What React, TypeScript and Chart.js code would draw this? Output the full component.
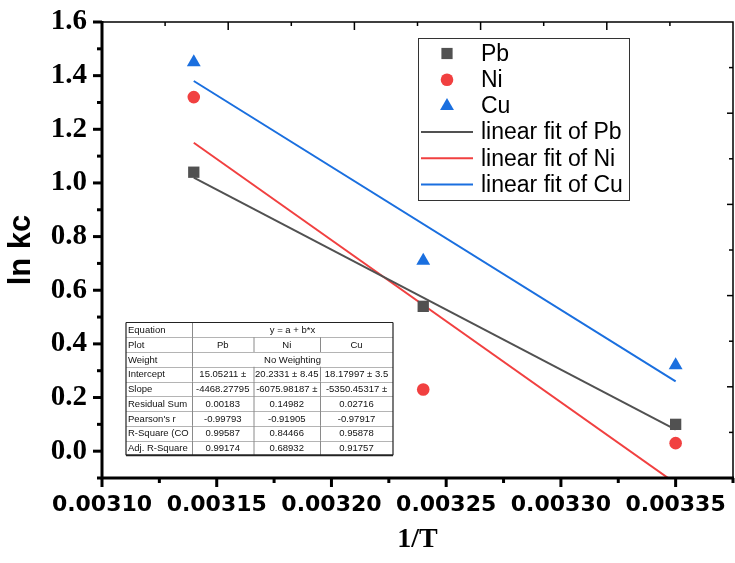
import React, { useEffect, useRef } from 'react';
import { Chart, registerables } from 'chart.js';

Chart.register(...registerables);

// ---- data ----
const xValues = [0.00314, 0.00324, 0.00335];
const pbValues = [1.04, 0.54, 0.1];
const niValues = [1.32, 0.23, 0.03];
const cuValues = [1.45, 0.71, 0.32];

const fitX = [0.00314, 0.00335];
const pbFit = [1.02, 0.08];
const niFit = [1.15, -0.12];
const cuFit = [1.38, 0.26];

const xTicks = [0.0031, 0.00315, 0.0032, 0.00325, 0.0033, 0.00335];
const yTicks = [0, 0.2, 0.4, 0.6, 0.8, 1.0, 1.2, 1.4, 1.6];

const seriesNames = ['Pb', 'Ni', 'Cu'];
const fitNames = ['linear fit of Pb', 'linear fit of Ni', 'linear fit of Cu'];
const colors = ['#515151', '#F14040', '#1A6FDF'];

const tableRowLabels = [
  'Equation',
  'Plot',
  'Weight',
  'Intercept',
  'Slope',
  'Residual Sum',
  "Pearson's r",
  'R-Square (CO',
  'Adj. R-Square',
];
const tableCells: string[][] = [
  ['y = a + b*x'],
  ['Pb', 'Ni', 'Cu'],
  ['No Weighting'],
  ['15.05211 ±', '20.2331 ± 8.45', '18.17997 ± 3.5'],
  ['-4468.27795', '-6075.98187 ±', '-5350.45317 ±'],
  ['0.00183', '0.14982', '0.02716'],
  ['-0.99793', '-0.91905', '-0.97917'],
  ['0.99587', '0.84466', '0.95878'],
  ['0.99174', '0.68932', '0.91757'],
];

const toPts = (xs: number[], ys: number[]) => xs.map((x, i) => ({ x, y: ys[i] }));

function drawMarker(ctx: CanvasRenderingContext2D, kind: number, x: number, y: number) {
  ctx.fillStyle = colors[kind];
  ctx.beginPath();
  if (kind === 0) {
    ctx.rect(x - 5.6, y - 5.6, 11.2, 11.2);
  } else if (kind === 1) {
    ctx.arc(x, y, 6.3, 0, Math.PI * 2);
  } else {
    const r = 8;
    ctx.moveTo(x, y - r);
    ctx.lineTo(x + r * Math.sin((2 * Math.PI) / 3), y - r * Math.cos((2 * Math.PI) / 3));
    ctx.lineTo(x + r * Math.sin((4 * Math.PI) / 3), y - r * Math.cos((4 * Math.PI) / 3));
    ctx.closePath();
  }
  ctx.fill();
}

function cellText(ctx: CanvasRenderingContext2D, text: string, x0: number, x1: number, yc: number, align: 'auto' | 'left') {
  ctx.save();
  ctx.beginPath();
  ctx.rect(x0 + 1, yc - 8, x1 - x0 - 2, 16);
  ctx.clip();
  const w = ctx.measureText(text).width;
  if (align === 'auto' && w <= x1 - x0 - 3) {
    ctx.textAlign = 'center';
    ctx.fillText(text, (x0 + x1) / 2, yc);
  } else {
    ctx.textAlign = 'left';
    ctx.fillText(text, x0 + 2, yc);
  }
  ctx.restore();
}

function drawTable(ctx: CanvasRenderingContext2D) {
  const colX = [126, 192, 253.5, 320, 393];
  const top = 322.5;
  const rowH = 14.75;
  const right = colX[4];
  const n = tableRowLabels.length;
  ctx.save();
  ctx.fillStyle = '#ffffff';
  ctx.fillRect(colX[0], top, right - colX[0], rowH * n);
  ctx.lineWidth = 1;
  ctx.strokeStyle = '#b4b4b4';
  for (let r = 1; r < n; r++) {
    const y = Math.round(top + r * rowH) + 0.5;
    ctx.beginPath();
    ctx.moveTo(colX[0], y);
    ctx.lineTo(right, y);
    ctx.stroke();
  }
  ctx.strokeStyle = '#8a8a8a';
  for (let r = 0; r < n; r++) {
    const y0 = top + r * rowH;
    const y1 = y0 + rowH;
    const xs = tableCells[r].length === 3 ? [colX[1], colX[2], colX[3]] : [colX[1]];
    xs.forEach((xv) => {
      ctx.beginPath();
      ctx.moveTo(xv + 0.5, y0);
      ctx.lineTo(xv + 0.5, y1);
      ctx.stroke();
    });
  }
  ctx.strokeStyle = '#222';
  ctx.lineWidth = 1.2;
  ctx.beginPath();
  ctx.moveTo(colX[0], top);
  ctx.lineTo(right, top);
  ctx.moveTo(colX[0], top);
  ctx.lineTo(colX[0], top + rowH * n);
  ctx.moveTo(right, top);
  ctx.lineTo(right, top + rowH * n);
  ctx.stroke();
  ctx.lineWidth = 2;
  ctx.beginPath();
  ctx.moveTo(colX[0], top + rowH * n);
  ctx.lineTo(right, top + rowH * n);
  ctx.stroke();

  ctx.fillStyle = '#111';
  ctx.font = '9.5px "Liberation Sans", Arial, sans-serif';
  ctx.textBaseline = 'middle';
  for (let r = 0; r < n; r++) {
    const yc = top + r * rowH + rowH / 2 + 0.5;
    cellText(ctx, tableRowLabels[r], colX[0], colX[1], yc, 'left');
    const cells = tableCells[r];
    if (cells.length === 1) {
      cellText(ctx, cells[0], colX[1], colX[4], yc, 'auto');
    } else {
      cells.forEach((t, i) => cellText(ctx, t, colX[i + 1], colX[i + 2], yc, 'auto'));
    }
  }
  ctx.restore();
}

function drawLegend(ctx: CanvasRenderingContext2D) {
  const bx = 418.5, by = 38.5, bw = 211, bh = 162;
  ctx.save();
  ctx.fillStyle = '#fff';
  ctx.fillRect(bx, by, bw, bh);
  ctx.strokeStyle = '#333';
  ctx.lineWidth = 1;
  ctx.strokeRect(bx, by, bw, bh);
  ctx.font = '23px "Liberation Sans", Arial, sans-serif';
  ctx.textBaseline = 'middle';
  ctx.textAlign = 'left';
  const rowY = (i: number) => 53.5 + i * 26.2;
  seriesNames.forEach((name, i) => {
    drawMarker(ctx, i, 447, rowY(i));
    ctx.fillStyle = '#000';
    ctx.fillText(name, 481, rowY(i) + 1);
  });
  fitNames.forEach((name, i) => {
    const y = rowY(i + 3);
    ctx.strokeStyle = colors[i];
    ctx.lineWidth = 2;
    ctx.beginPath();
    ctx.moveTo(421, y);
    ctx.lineTo(473, y);
    ctx.stroke();
    ctx.fillStyle = '#000';
    ctx.fillText(name, 481, y + 1);
  });
  ctx.restore();
}

const PLOT_RIGHT = 733;

const framePlugin = {
  id: 'frameAndOverlays',
  afterLayout(chart: any) {
    const ca = chart.chartArea;
    const xs = chart.scales.x;
    ca.right = PLOT_RIGHT;
    ca.width = PLOT_RIGHT - ca.left;
    xs.right = PLOT_RIGHT;
    xs.width = PLOT_RIGHT - xs.left;
    xs.configure();
  },
  afterDraw(chart: any) {
    const { ctx, chartArea } = chart;
    const { left, right, top, bottom } = chartArea;
    const xs = chart.scales.x;
    const ys = chart.scales.y;
    ctx.save();
    ctx.strokeStyle = '#000';
    ctx.lineCap = 'butt';
    // top and right thin frame
    ctx.lineWidth = 1.5;
    ctx.beginPath();
    ctx.moveTo(left, top);
    ctx.lineTo(right, top);
    ctx.lineTo(right, bottom);
    ctx.stroke();
    for (let k = 1; k < 10; k++) {
      const px = left + ((right - left) * k) / 10;
      const len = k % 2 === 0 ? 8 : 4;
      ctx.beginPath();
      ctx.moveTo(px, top);
      ctx.lineTo(px, top + len);
      ctx.stroke();
      const py = top + ((bottom - top) * k) / 10;
      const len2 = k % 2 === 0 ? 6 : 4;
      ctx.beginPath();
      ctx.moveTo(right, py);
      ctx.lineTo(right - len2, py);
      ctx.stroke();
    }
    // thick left and bottom axes
    ctx.lineWidth = 3;
    ctx.beginPath();
    ctx.moveTo(left, top - 1);
    ctx.lineTo(left, bottom + 1.5);
    ctx.moveTo(left - 1.5, bottom);
    ctx.lineTo(right + 1, bottom);
    ctx.stroke();
    // x ticks
    const xStep = xTicks[1] - xTicks[0];
    xTicks.forEach((v) => {
      const px = xs.getPixelForValue(v);
      ctx.beginPath();
      ctx.moveTo(px, bottom);
      ctx.lineTo(px, bottom + 9);
      ctx.stroke();
      const pm = xs.getPixelForValue(v + xStep / 2);
      if (pm <= right + 0.5) {
        ctx.beginPath();
        ctx.moveTo(pm, bottom);
        ctx.lineTo(pm, bottom + 5);
        ctx.stroke();
      }
    });
    const yStep = yTicks[1] - yTicks[0];
    yTicks.forEach((v) => {
      const py = ys.getPixelForValue(v);
      ctx.beginPath();
      ctx.moveTo(left, py);
      ctx.lineTo(left - 9, py);
      ctx.stroke();
      const pm = ys.getPixelForValue(v - yStep / 2);
      if (pm <= bottom + 0.5) {
        ctx.beginPath();
        ctx.moveTo(left, pm);
        ctx.lineTo(left - 5, pm);
        ctx.stroke();
      }
    });
    ctx.restore();
    drawTable(ctx);
    drawLegend(ctx);
  },
};

export default function App() {
  const ref = useRef<HTMLCanvasElement | null>(null);
  useEffect(() => {
    if (!ref.current) return;
    const chart = new Chart(ref.current, {
      type: 'scatter',
      data: {
        datasets: [
          {
            label: 'Pb',
            data: toPts(xValues, pbValues),
            pointStyle: 'rect',
            pointRadius: 8,
            backgroundColor: colors[0],
            borderWidth: 0,
          },
          {
            label: 'Ni',
            data: toPts(xValues, niValues),
            pointStyle: 'circle',
            pointRadius: 6.3,
            backgroundColor: colors[1],
            borderWidth: 0,
          },
          {
            label: 'Cu',
            data: toPts(xValues, cuValues),
            pointStyle: 'triangle',
            pointRadius: 8,
            backgroundColor: colors[2],
            borderWidth: 0,
          },
          {
            label: 'linear fit of Pb',
            data: toPts(fitX, pbFit),
            showLine: true,
            pointRadius: 0,
            borderColor: colors[0],
            borderWidth: 2,
          },
          {
            label: 'linear fit of Ni',
            data: toPts(fitX, niFit),
            showLine: true,
            pointRadius: 0,
            borderColor: colors[1],
            borderWidth: 2,
          },
          {
            label: 'linear fit of Cu',
            data: toPts(fitX, cuFit),
            showLine: true,
            pointRadius: 0,
            borderColor: colors[2],
            borderWidth: 2,
          },
        ],
      },
      options: {
        responsive: false,
        animation: false,
        devicePixelRatio: 1,
        layout: { padding: { top: 22, right: 2, left: 0, bottom: 0 } },
        plugins: { legend: { display: false }, tooltip: { enabled: false } },
        scales: {
          x: {
            type: 'linear',
            min: 0.0031,
            max: 0.003375,
            grid: { display: false, drawTicks: true, tickLength: 14 },
            border: { display: false },
            afterBuildTicks: (s: any) => {
              s.ticks = xTicks.map((v) => ({ value: v }));
            },
            afterFit: (s: any) => {
              s.height = 85;
            },
            ticks: {
              autoSkip: false,
              maxRotation: 0,
              minRotation: 0,
              padding: 0,
              color: '#000',
              font: { family: '"DejaVu Sans", sans-serif', size: 22, weight: 'bold' },
              callback: (v: any) => Number(v).toFixed(5),
            },
            title: {
              display: true,
              text: '1/T',
              color: '#000',
              padding: { top: 0, bottom: 6 },
              font: { family: '"Liberation Serif", serif', size: 28, weight: 'bold' },
            },
          },
          y: {
            type: 'linear',
            min: -0.1,
            max: 1.6,
            grid: { display: false, drawTicks: true, tickLength: 15 },
            border: { display: false },
            afterBuildTicks: (s: any) => {
              s.ticks = yTicks.map((v) => ({ value: v }));
            },
            afterFit: (s: any) => {
              s.width = 102;
            },
            ticks: {
              padding: 0,
              color: '#000',
              font: { family: '"Liberation Serif", serif', size: 29, weight: 'bold', lineHeight: 1.2 },
              callback: (v: any) => Number(v).toFixed(1),
            },
            title: {
              display: true,
              text: 'ln kc',
              color: '#000',
              padding: { top: 3, bottom: 0 },
              font: { family: '"Liberation Sans", Arial, sans-serif', size: 31, weight: 'bold' },
            },
          },
        },
      },
      plugins: [framePlugin],
    } as any);
    return () => chart.destroy();
  }, []);
  return (
    <div style={{ position: 'absolute', left: 0, top: 0, width: 735, height: 563, background: '#fff' }}>
      <canvas ref={ref} width={735} height={563} style={{ display: 'block' }} />
    </div>
  );
}
